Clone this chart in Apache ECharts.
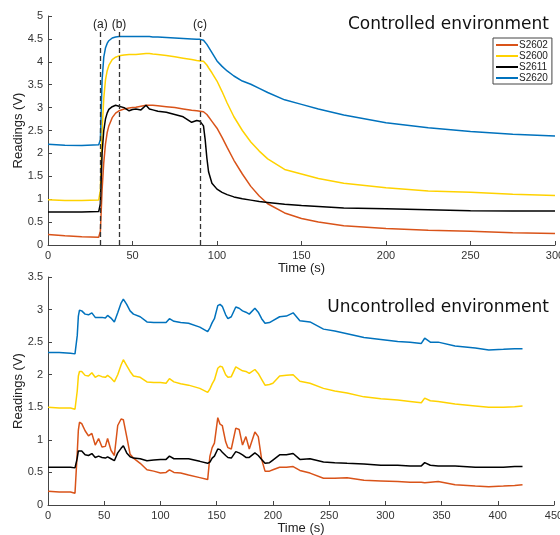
<!DOCTYPE html>
<html>
<head>
<meta charset="utf-8">
<script src="https://cdn.jsdelivr.net/npm/echarts@6/dist/echarts.min.js"></script>
<style>
  html, body { margin: 0; padding: 0; background: #fff; }
  #chart { width: 560px; height: 535px; }
</style>
</head>
<body>
<div id="chart"></div>
<script>
// controlled environment (top)
var topTime = [0,10,20,30,31,32,33,34,35,36,38,40,42,45,48,50,52,55,58,60,62,65,70,75,80,85,88,90,91,92,93,94,95,97,100,103,106,110,115,120,125,130,140,150,160,175,200,225,250,275,300];
var topS2602 = [0.23,0.2,0.18,0.17,0.3,1.2,1.8,2.2,2.45,2.6,2.78,2.88,2.93,2.97,2.99,3.0,3.01,3.03,3.05,3.05,3.05,3.04,3.02,3.0,2.97,2.94,2.93,2.92,2.92,2.91,2.89,2.85,2.8,2.7,2.55,2.35,2.13,1.85,1.55,1.28,1.07,0.9,0.7,0.58,0.5,0.42,0.36,0.32,0.3,0.27,0.25];
var topS2600 = [0.99,0.97,0.97,0.98,1.2,2.5,3.2,3.6,3.8,3.92,4.05,4.1,4.13,4.15,4.16,4.16,4.16,4.17,4.18,4.18,4.17,4.16,4.14,4.11,4.08,4.05,4.03,4.02,4.02,4.01,3.98,3.93,3.87,3.76,3.58,3.35,3.1,2.8,2.5,2.25,2.05,1.88,1.65,1.55,1.45,1.35,1.25,1.18,1.15,1.11,1.08];
var topS2611 = [0.72,0.72,0.72,0.73,0.9,2.0,2.5,2.75,2.88,2.96,3.02,3.05,3.03,3.0,2.93,2.96,2.97,2.95,3.05,2.97,2.95,2.92,2.9,2.85,2.8,2.68,2.72,2.7,2.72,2.6,2.3,1.9,1.6,1.35,1.22,1.15,1.1,1.05,1.01,0.98,0.95,0.93,0.89,0.86,0.84,0.81,0.79,0.77,0.75,0.74,0.74];
var topS2620 = [2.2,2.18,2.17,2.19,2.3,3.6,4.1,4.3,4.4,4.46,4.52,4.54,4.55,4.55,4.55,4.55,4.55,4.55,4.55,4.55,4.54,4.54,4.53,4.52,4.51,4.5,4.49,4.49,4.49,4.47,4.43,4.38,4.32,4.2,4.02,3.9,3.8,3.69,3.58,3.51,3.42,3.33,3.17,3.07,2.97,2.84,2.67,2.56,2.48,2.42,2.38];

// uncontrolled environment (bottom)
var botTime = [0,10,20,24,25,26,27,28,30,33,36,39,42,45,48,51,53,56,59,62,65,67,70,73,76,82,88,94,100,105,108,112,118,125,135,142,143,144,146,148,151,153,155,158,160,163,167,170,173,176,179,184,187,190,193,197,200,206,212,218,224,233,245,255,266,281,296,311,322,332,335,340,347,362,380,392,405,415,422];
var botS2602 = [0.21,0.2,0.2,0.18,0.19,0.8,1.15,1.27, 1.25,1.14,1.06,1.1,0.92,1.02,0.89,0.9,1.02,0.84,0.76,1.22,1.32,1.31,1.05,0.78,0.72, 0.64,0.54,0.52,0.49,0.5,0.54,0.5,0.49,0.46,0.42,0.39,0.4,0.75,0.88,0.95, 1.34,1.24,1.22,0.97,0.88,0.86,1.18,1.16,0.92,1.05,0.86,1.12,1.05,0.7,0.52,0.52,0.54, 0.58,0.58,0.59,0.53,0.49,0.41,0.41,0.42,0.38,0.37,0.36,0.35,0.35,0.34,0.35,0.36,0.31,0.29,0.28,0.29,0.3,0.31];
var botS2600 = [1.5,1.49,1.49,1.47,1.48,1.75,1.98,2.05, 2.05,1.99,1.98,2.03,1.96,1.99,1.97,1.96,1.99,1.95,1.89,2.0,2.15,2.23,2.14,2.05,1.98, 1.96,1.89,1.88,1.88,1.87,1.94,1.89,1.86,1.84,1.79,1.73,1.74,1.78,1.86,1.92, 2.1,2.13,2.12,2.0,1.96,1.97,2.12,2.09,2.06,2.05,2.02,2.08,2.02,1.93,1.84,1.85,1.87, 1.98,1.99,2.0,1.9,1.87,1.79,1.75,1.72,1.66,1.63,1.61,1.59,1.57,1.64,1.6,1.59,1.55,1.52,1.5,1.5,1.51,1.52];
var botS2611 = [0.58,0.58,0.58,0.57,0.58,0.72,0.83,0.86, 0.83,0.77,0.76,0.79,0.73,0.75,0.73,0.72,0.74,0.71,0.68,0.8,0.87,0.91,0.8,0.74,0.72, 0.71,0.68,0.69,0.7,0.7,0.75,0.71,0.71,0.71,0.67,0.64,0.64,0.66,0.72,0.75, 0.86,0.85,0.81,0.76,0.73,0.72,0.82,0.8,0.77,0.73,0.73,0.8,0.76,0.7,0.64,0.65,0.69, 0.77,0.77,0.79,0.7,0.71,0.66,0.65,0.64,0.63,0.61,0.61,0.6,0.6,0.65,0.61,0.6,0.6,0.58,0.58,0.58,0.59,0.59];
var botS2620 = [2.34,2.34,2.33,2.32,2.33,2.6,2.9,2.99, 2.98,2.93,2.92,2.95,2.88,2.88,2.88,2.87,2.91,2.87,2.81,2.95,3.1,3.16,3.08,2.98,2.93, 2.89,2.81,2.8,2.8,2.8,2.86,2.82,2.8,2.79,2.73,2.66,2.67,2.72,2.8,2.86, 3.06,3.08,3.05,2.92,2.86,2.89,3.04,3.02,2.98,2.96,2.93,3.02,2.96,2.86,2.79,2.8,2.83, 2.89,2.9,2.95,2.83,2.81,2.7,2.67,2.63,2.57,2.54,2.51,2.5,2.48,2.56,2.5,2.5,2.44,2.41,2.38,2.39,2.4,2.4];

var eventTimes = [31, 42, 90];
var eventLabels = ['(a)', '(b)', '(c)'];
var sensorNames = ['S2602', 'S2600', 'S2611', 'S2620'];
var colors = ['#D95319', '#FFD200', '#000000', '#0072BD'];

function zip(t, v) {
  return t.map(function (x, i) { return [x, v[i]]; });
}

var topData = [topS2602, topS2600, topS2611, topS2620];
var botData = [botS2602, botS2600, botS2611, botS2620];

var axisCol = '#444';
var labelStyle = { color: '#333', fontSize: 11, fontFamily: 'Liberation Sans' };

function xAx(idx, max) {
  return {
    type: 'value', gridIndex: idx, min: 0, max: max, interval: 50,
    name: 'Time (s)', nameLocation: 'middle', nameGap: 17, nameMoveOverlap: false,
    nameTextStyle: { color: '#222', fontSize: 13, fontFamily: 'Liberation Sans' },
    axisLine: { onZero: false, lineStyle: { color: axisCol } },
    axisTick: { inside: true, length: 4, lineStyle: { color: axisCol } },
    axisLabel: Object.assign({ margin: 5 }, labelStyle),
    splitLine: { show: false }
  };
}
function yAx(idx, max) {
  return {
    type: 'value', gridIndex: idx, min: 0, max: max, interval: 0.5,
    name: 'Readings (V)', nameLocation: 'middle', nameGap: 23, nameMoveOverlap: false,
    nameTextStyle: { color: '#222', fontSize: 13, fontFamily: 'Liberation Sans' },
    axisLine: { show: true, lineStyle: { color: axisCol } },
    axisTick: { show: true, inside: true, length: 4, lineStyle: { color: axisCol } },
    axisLabel: Object.assign({ margin: 5 }, labelStyle),
    splitLine: { show: false }
  };
}

var series = [];
sensorNames.forEach(function (name, i) {
  series.push({
    name: name, type: 'line', xAxisIndex: 0, yAxisIndex: 0,
    data: zip(topTime, topData[i]), showSymbol: false, silent: true,
    lineStyle: { color: colors[i], width: 1.5 }, itemStyle: { color: colors[i] }
  });
});
sensorNames.forEach(function (name, i) {
  series.push({
    name: name, type: 'line', xAxisIndex: 1, yAxisIndex: 1,
    data: zip(botTime, botData[i]), showSymbol: false, silent: true,
    lineStyle: { color: colors[i], width: 1.5 }, itemStyle: { color: colors[i] }
  });
});

// dashed event markers on the top panel
series[0].markLine = {
  silent: true, symbol: 'none', animation: false,
  lineStyle: { color: '#333', type: [5, 3], width: 1.3 },
  label: { show: true, position: 'end', distance: 1, color: '#222', fontSize: 12, fontFamily: 'Liberation Sans', formatter: '{b}' },
  data: eventTimes.map(function (t, i) {
    return [{ name: eventLabels[i], coord: [t, 0] }, { coord: [t, 4.65] }];
  })
};

var chart = echarts.init(document.getElementById('chart'));
chart.setOption({
  animation: false,
  backgroundColor: '#fff',
  title: [
    { text: 'Controlled environment', right: 6, top: 11,
      textStyle: { fontSize: 17, fontWeight: 'normal', color: '#111', fontFamily: 'DejaVu Sans' } },
    { text: 'Uncontrolled environment', right: 6, top: 294,
      textStyle: { fontSize: 17, fontWeight: 'normal', color: '#111', fontFamily: 'DejaVu Sans' } }
  ],
  legend: {
    data: sensorNames, orient: 'vertical', left: 493, top: 38,
    itemWidth: 22, itemHeight: 2, itemGap: 1, icon: 'rect',
    padding: [2, 4, 1, 3], borderColor: '#444', borderWidth: 1, backgroundColor: '#fff',
    textStyle: { fontSize: 10, color: '#222', fontFamily: 'Liberation Sans', padding: [0, 0, 0, -4] }
  },
  grid: [
    { left: 48, top: 16, width: 507, height: 229, containLabel: false, outerBoundsMode: 'none' },
    { left: 48, top: 277, width: 506, height: 228, containLabel: false, outerBoundsMode: 'none' }
  ],
  xAxis: [xAx(0, 300), xAx(1, 450)],
  yAxis: [yAx(0, 5), yAx(1, 3.5)],
  series: series
});
</script>
</body>
</html>
